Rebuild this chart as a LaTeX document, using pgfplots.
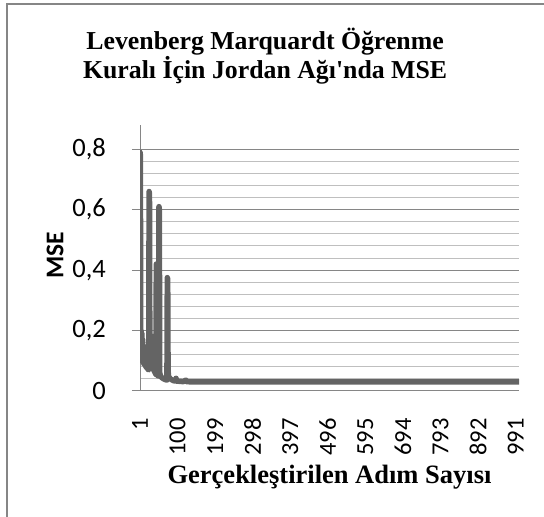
\documentclass[border=0pt]{standalone}
\usepackage{pgfplots}
\pgfplotsset{compat=1.18}
\usepackage{fontspec}
\setmainfont{Liberation Serif}
\newfontfamily\calibri{Carlito}
\definecolor{majgrid}{RGB}{134,134,134}
\definecolor{mingrid}{RGB}{191,191,191}
\definecolor{linegray}{RGB}{100,100,100}
\begin{document}
\begin{tikzpicture}
\useasboundingbox (0,0) rectangle (544bp,517bp);
% chart area frame (only left and top edges are inside the picture)
\draw[majgrid, line width=1.5bp] (7bp,-10bp) -- (7bp,513bp) -- (560bp,513bp);
\begin{axis}[
    at={(140bp,126bp)}, anchor=south west,
    scale only axis, width=379bp, height=266bp,
    xmin=1, xmax=1000, ymin=0, ymax=0.8801,
    axis x line*=bottom, axis y line*=left,
    axis line style={draw=majgrid, line width=1bp, -},
    xtick={1,100,...,991},
    ytick={0,0.2,0.4,0.6,0.8},
    minor y tick num=4,
    ymajorgrids, yminorgrids,
    major grid style={draw=majgrid, line width=1bp},
    minor grid style={draw=mingrid, line width=1bp},
    tick align=outside,
    major tick length=8bp, minor tick length=0pt,
    ytick style={draw=majgrid, line width=1bp},
    xtick style={draw=none},
    /pgf/number format/.cd, use comma, fixed, precision=1, assume math mode=true,
    /pgfplots/.cd,
    tick label style={inner sep=0pt},
    yticklabel style={anchor=east, xshift=-26bp, font=\calibri\fontsize{26.5bp}{27bp}\selectfont},
    xticklabel style={yshift=-19bp, rotate=90, anchor=east, font=\calibri\fontsize{24.5bp}{25bp}\selectfont},
    xlabel={Gerçekleştirilen Adım Sayısı},
    xlabel style={at={(rel axis cs:0.5,-0.346)}, anchor=base, font=\bfseries\fontsize{26.5bp}{30bp}\selectfont},
    ylabel={MSE},
    ylabel style={at={(rel axis cs:-0.224,0.51)}, anchor=center, font=\calibri\bfseries\fontsize{25.5bp}{28bp}\selectfont},
    title={Levenberg Marquardt Öğrenme\\Kuralı İçin Jordan Ağı\textquotesingle nda MSE},
    title style={at={(rel axis cs:0.33,1.237)}, anchor=center, align=center, font=\bfseries\fontsize{25.8bp}{25bp}\selectfont},
]
\addplot[draw=linegray, line width=5.5bp, line join=round, line cap=round] coordinates {
    (1,0.79) (2,0.78) (3,0.12) (4,0.20) (5,0.10) (6,0.19) (7,0.10) (8,0.17)
    (9,0.095) (10,0.15) (11,0.09) (12,0.13) (13,0.088) (14,0.11) (15,0.085)
    (17,0.08) (19,0.077) (21,0.074) (23,0.071) (24,0.07)
    (25,0.66) (26,0.65) (27,0.10) (28,0.18) (29,0.09) (30,0.16) (31,0.085)
    (32,0.13) (33,0.08) (35,0.075) (36,0.18) (37,0.07) (39,0.065) (41,0.06)
    (43,0.055) (44,0.42) (45,0.055) (47,0.052) (49,0.05) (50,0.05)
    (51,0.61) (52,0.60) (53,0.06) (55,0.05) (58,0.045) (61,0.042) (64,0.04)
    (67,0.038) (70,0.037) (72,0.036)
    (73,0.375) (74,0.37) (75,0.07) (76,0.05) (78,0.045) (81,0.04) (85,0.037)
    (90,0.034) (95,0.033) (96,0.042) (97,0.033) (105,0.032) (115,0.031)
    (122,0.036) (123,0.031) (140,0.03) (200,0.03) (300,0.03) (400,0.03)
    (500,0.03) (600,0.03) (700,0.03) (800,0.03) (900,0.03) (1000,0.03)
};
\end{axis}
\end{tikzpicture}
\end{document}
